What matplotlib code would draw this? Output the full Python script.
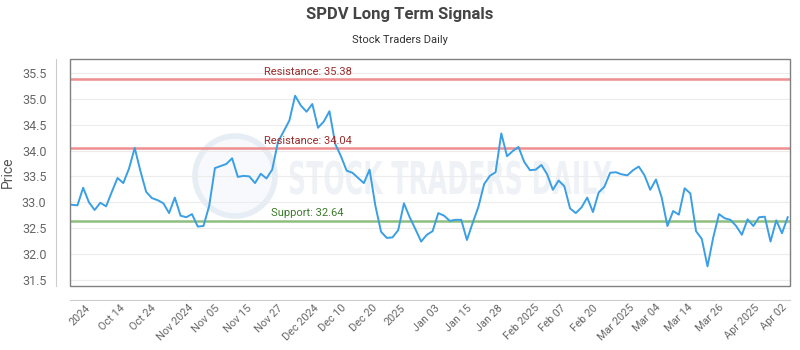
import matplotlib
matplotlib.use('Agg')
import matplotlib.pyplot as plt
import matplotlib.patches as mpatches
import matplotlib.transforms as mtransforms
from matplotlib.textpath import TextPath
from matplotlib.font_manager import FontProperties
import numpy as np

# closing prices, one per trading day
prices = [
    32.95, 32.94, 33.28, 33.00, 32.85, 32.99, 32.92, 33.20, 33.47, 33.37,
    33.65, 34.05, 33.60, 33.20, 33.08, 33.04, 32.98, 32.79, 33.09, 32.74,
    32.71, 32.77, 32.53, 32.54, 32.93, 33.66, 33.70, 33.74, 33.85, 33.49,
    33.51, 33.50, 33.37, 33.55, 33.46, 33.63, 34.16, 34.37, 34.58, 35.06,
    34.87, 34.75, 34.90, 34.44, 34.56, 34.76, 34.13, 33.89, 33.61, 33.57,
    33.47, 33.37, 33.63, 32.94, 32.43, 32.31, 32.32, 32.46, 32.98, 32.71,
    32.48, 32.24, 32.37, 32.44, 32.79, 32.74, 32.64, 32.66, 32.66, 32.27,
    32.60, 32.91, 33.35, 33.51, 33.58, 34.33, 33.89, 33.99, 34.07, 33.78,
    33.62, 33.63, 33.72, 33.54, 33.24, 33.42, 33.31, 32.88, 32.79, 32.90,
    33.09, 32.81, 33.19, 33.30, 33.57, 33.58, 33.54, 33.52, 33.62, 33.69,
    33.52, 33.24, 33.44, 33.09, 32.54, 32.83, 32.76, 33.27, 33.17, 32.44,
    32.29, 31.76, 32.32, 32.77, 32.69, 32.66, 32.54, 32.37, 32.67, 32.54,
    32.71, 32.72, 32.24, 32.65, 32.40, 32.71,
]

tick_labels = ['2024', 'Oct 14', 'Oct 24', 'Nov 2024', 'Nov 05', 'Nov 15',
               'Nov 27', 'Dec 2024', 'Dec 10', 'Dec 20', '2025', 'Jan 03',
               'Jan 15', 'Jan 28', 'Feb 2025', 'Feb 07', 'Feb 20', 'Mar 2025',
               'Mar 04', 'Mar 14', 'Mar 26', 'Apr 2025', 'Apr 02']

resistance_levels = [35.38, 34.04]
support_levels = [32.64]

y_ticks = [31.5, 32.0, 32.5, 33.0, 33.5, 34.0, 34.5, 35.0, 35.5]

plt.rcParams['font.family'] = ['Roboto', 'DejaVu Sans']

fig = plt.figure(figsize=(8, 3.5), dpi=100)
ax = fig.add_axes([70 / 800, 1 - 286 / 350, 720 / 800, 227 / 350])

# faint watermark (logo ring + stretched text), drawn in pixel space
ax.add_patch(mpatches.Ellipse((165 / 720, 110 / 227), 80 / 720, 80 / 227,
                              transform=ax.transAxes, facecolor='#f7f9fc',
                              edgecolor='#e6edf4', lw=4, zorder=0))
wm = TextPath((0, 0), 'STOCK TRADERS DAILY', size=1,
              prop=FontProperties(family='DejaVu Sans', weight='bold'))
ext = wm.get_extents()
sx = 322 / ext.width / 100
sy = 33 / 0.73 / 100
wm_tr = mtransforms.Affine2D().scale(sx, sy).translate(2.88, (350 - 194) / 100) + fig.dpi_scale_trans
ax.add_patch(mpatches.PathPatch(wm, transform=wm_tr, facecolor='#eef2f6', edgecolor='none',
                                zorder=0.5, clip_on=False))

x = np.arange(len(prices))
ax.plot(x, prices, color='#3a9fe4', lw=1.4, zorder=3)

for lv in resistance_levels:
    ax.axhline(lv, color='#ef8f8f', lw=1.8, zorder=2)
    ax.text(0.33, lv + 0.05, 'Resistance: %.2f' % lv, transform=ax.get_yaxis_transform(),
            ha='center', va='bottom', fontsize=8, color='#9b2c2c', zorder=4)
for lv in support_levels:
    ax.axhline(lv, color='#8fbf7f', lw=1.8, zorder=2)
    ax.text(0.33, lv + 0.05, 'Support: %.2f' % lv, transform=ax.get_yaxis_transform(),
            ha='center', va='bottom', fontsize=8, color='#3c7a2c', zorder=4)

ax.set_xlim(-0.3, len(prices) - 0.6)
ax.set_ylim(31.38, 35.77)
ax.set_yticks(y_ticks)
ax.set_yticklabels(['%.1f' % v for v in y_ticks])
ax.grid(axis='y', color='#ececec', lw=0.8, zorder=0)

tick_pos = np.linspace(1.5, 122.5, len(tick_labels))
ax.set_xticks(tick_pos)
ax.set_xticklabels(tick_labels)

ax.tick_params(axis='both', length=0, colors='#666666')
ax.tick_params(axis='y', pad=7, labelsize=9)
ax.tick_params(axis='x', pad=2, labelsize=7.8, labelrotation=45)
for lbl in ax.get_xticklabels():
    lbl.set_family(['Open Sans', 'DejaVu Sans'])
    lbl.set_ha('right')
    lbl.set_va('top')
    lbl.set_rotation_mode('anchor')

# offset axis lines like the original
for s in ['top', 'right']:
    ax.spines[s].set_visible(False)
ax.spines['left'].set_position(('outward', 10))
ax.spines['bottom'].set_position(('outward', 10))
ax.spines['left'].set_color('#cccccc')
ax.spines['bottom'].set_color('#cccccc')

# plot frame
ax.add_patch(mpatches.Rectangle((0, 0), 1, 1, transform=ax.transAxes, fill=False,
                                edgecolor='#808080', lw=1.0, clip_on=False, zorder=5))

ax.set_ylabel('Price', fontsize=10, color='#555555')
ax.yaxis.set_label_coords(-55 / 720, 0.5)

fig.text(0.5, 1 - 15 / 350, 'SPDV Long Term Signals', ha='center', va='center',
         fontsize=12, fontweight='bold', color='#444444')
fig.text(0.5, 1 - 40 / 350, 'Stock Traders Daily', ha='center', va='center',
         fontsize=8, color='#333333')

fig.savefig('out.png', dpi=100)
